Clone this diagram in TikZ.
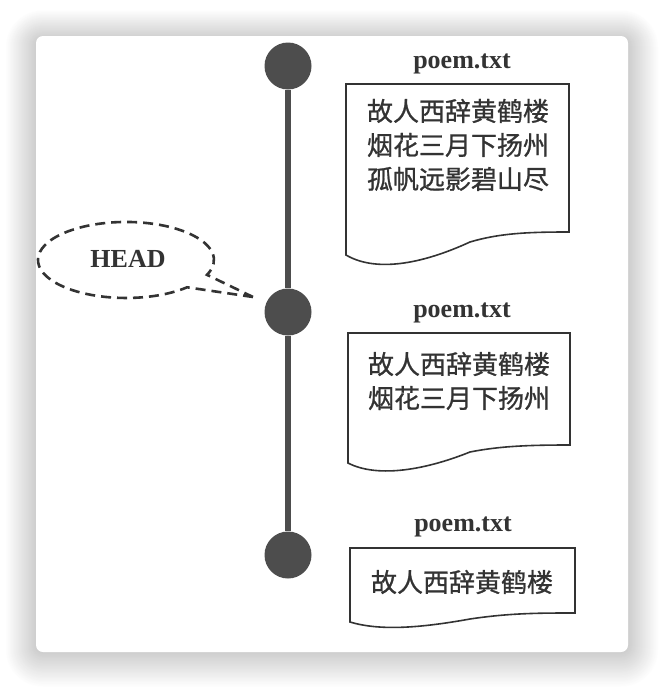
\documentclass[tikz,border=0pt]{standalone}
\usepackage{fontspec}
\setmainfont{Liberation Serif}
\newfontfamily\cjk[FakeBold=0.9]{Noto Sans CJK SC}
\definecolor{ink}{HTML}{333333}
\definecolor{dot}{HTML}{4D4D4D}
\begin{document}
\begin{tikzpicture}[x=1pt,y=-1pt,
  commit/.style={circle,fill=dot,minimum size=47pt,inner sep=0pt},
  fname/.style={font=\bfseries\fontsize{26}{28}\selectfont,text=ink},
  poem/.style={font=\cjk\fontsize{26}{34}\selectfont,text=ink,align=center},
  docbox/.style={draw=ink,line width=1.6pt,fill=white,line join=miter},
  trunk/.style={draw=dot,line width=6pt},
  callout/.style={draw=ink,line width=2.6pt,dash pattern=on 10pt off 6pt}]
\useasboundingbox (0,0) rectangle (664,688);
\fill[white] (0,0) rectangle (664,688);
% soft shadow of the card: opaque rings from light (outside) to darker (inside)
\foreach \i in {30,29,...,1}{
  \pgfmathsetmacro{\shade}{19*(31-\i)/30}
  \fill[black!\shade!white,rounded corners={(7+\i)*1pt}]
    ({36-1.0*\i},{36-0.95*\i+3}) rectangle ({628+1.0*\i},{652+1.15*\i});
}
% card
\fill[white,rounded corners=7pt] (36,36) rectangle (628,652);

% commits
\node[commit] (c1) at (288,66) {};
\node[commit] (c2) at (288,312) {};
\node[commit] (c3) at (288,555) {};
\draw[trunk] (c1) -- (c2);
\draw[trunk] (c2) -- (c3);

% documents
\draw[docbox] (569,232) -- (569,84) -- (346,84) -- (346,255)
  .. controls (375,272) and (420,265) .. (470,242)
  .. controls (500,233) and (530,232) .. (569,232) -- cycle;
\draw[docbox] (570,445) -- (570,333) -- (348,333) -- (348,463)
  .. controls (375,477) and (420,472) .. (470,452)
  .. controls (500,446) and (530,445) .. (570,445) -- cycle;
\draw[docbox] (575,613) -- (575,548) -- (350,548) -- (350,622)
  .. controls (380,631) and (420,628) .. (470,619)
  .. controls (510,613) and (540,613) .. (575,613) -- cycle;

\node[fname] (f1) at (462,64) {poem.txt};
\node[poem] (t1) at (458,145) {故人西辞黄鹤楼\\烟花三月下扬州\\孤帆远影碧山尽};
\node[fname] (f2) at (462,313) {poem.txt};
\node[poem] (t2) at (459,381) {故人西辞黄鹤楼\\烟花三月下扬州};
\node[fname] (f3) at (463,527) {poem.txt};
\node[poem] (t3) at (462,582) {故人西辞黄鹤楼};

% HEAD callout
\node[font=\bfseries\fontsize{26}{28}\selectfont,text=ink] (head) at (128,259) {HEAD};
\coordinate (tip) at (253,297);
\draw[callout] (tip) -- (187.1,287.3)
  arc[start angle=46,end angle=383,x radius=88,y radius=38] -- (tip);
\end{tikzpicture}
\end{document}
